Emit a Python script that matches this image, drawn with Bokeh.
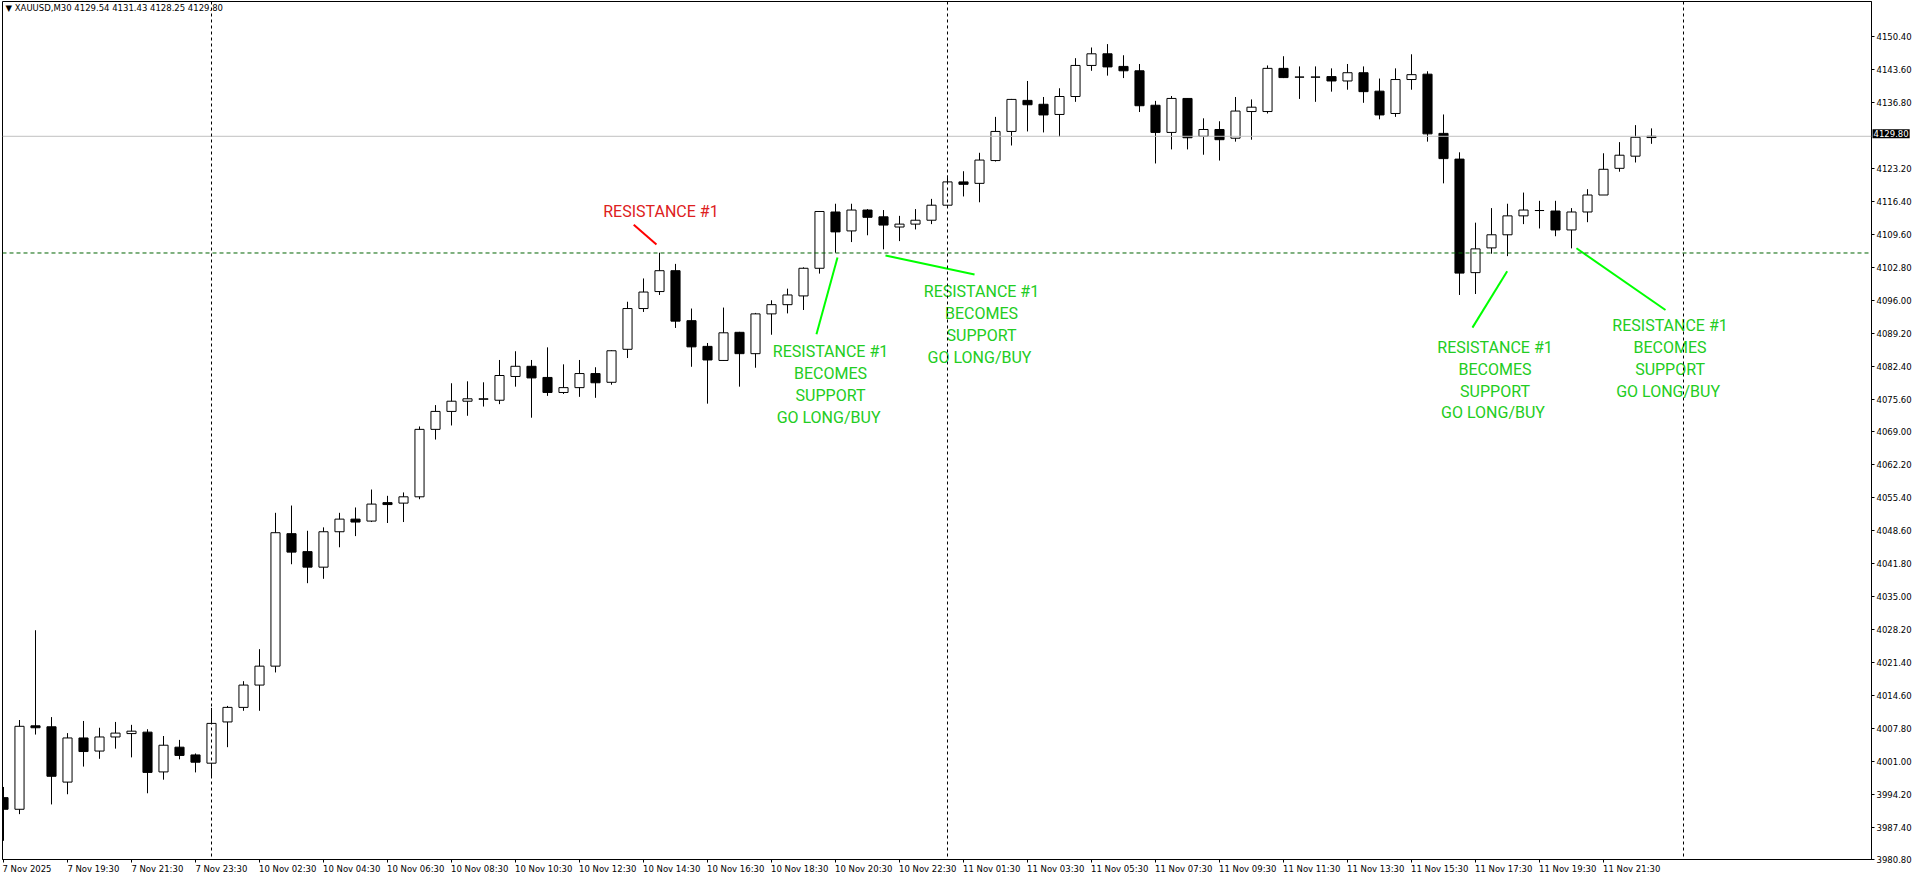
from bokeh.plotting import figure
from bokeh.models import (Range1d, LinearAxis, FixedTicker, NumeralTickFormatter,
                          Span, Label, ColumnDataSource)
from bokeh.core.properties import value
from bokeh.embed import file_html
from bokeh.resources import INLINE

# ---------------- data (XAUUSD M30, bar index 0 = 7 Nov 17:30) ----------------
bar_open = [3993.5, 3991.1, 4008.3, 4008.1, 3996.7, 4005.8, 4003.1, 4006.0, 4006.7, 4007.0,
            3998.8, 4003.9, 4002.3, 4000.6, 4009.1, 4012.1, 4016.7, 4020.6, 4047.9, 4044.2,
            4041.0, 4048.3, 4050.9, 4050.5, 4054.3, 4054.2, 4055.5, 4069.4, 4073.1, 4075.2,
            4075.6, 4075.4, 4080.3, 4082.4, 4080.1, 4077.0, 4078.0, 4080.9, 4079.1, 4085.9,
            4094.3, 4097.8, 4102.1, 4091.8, 4086.5, 4083.6, 4089.4, 4085.0, 4093.2, 4095.1,
            4096.9, 4102.6, 4114.2, 4110.3, 4114.6, 4113.2, 4111.1, 4111.7, 4112.5, 4115.6,
            4120.4, 4120.1, 4124.8, 4130.8, 4137.2, 4136.4, 4134.3, 4138.0, 4144.4, 4146.8,
            4144.2, 4143.3, 4136.2, 4130.6, 4137.6, 4129.8, 4131.2, 4129.4, 4134.9, 4134.9,
            4143.8, 4142.0, 4142.0, 4142.1, 4141.2, 4142.9, 4139.1, 4134.5, 4141.5, 4142.6,
            4130.4, 4125.1, 4101.7, 4106.8, 4109.5, 4113.4, 4114.5, 4114.4, 4110.5, 4114.2,
            4117.7, 4123.2, 4125.7, 4129.54]
bar_high = [3995.7, 4009.5, 4028.0, 4010.1, 4006.8, 4009.3, 4007.9, 4009.1, 4008.5, 4007.6,
            4006.2, 4005.4, 4002.6, 4012.0, 4012.4, 4017.5, 4024.1, 4052.2, 4053.7, 4048.5,
            4049.2, 4052.2, 4053.3, 4057.0, 4055.7, 4056.4, 4070.0, 4074.4, 4078.9, 4079.3,
            4079.1, 4083.7, 4085.5, 4083.7, 4086.3, 4082.8, 4083.7, 4082.2, 4085.7, 4095.7,
            4100.5, 4105.8, 4103.5, 4094.3, 4087.2, 4094.5, 4089.5, 4093.4, 4096.0, 4098.4,
            4102.8, 4114.4, 4115.9, 4115.9, 4114.8, 4114.6, 4113.4, 4114.8, 4116.9, 4121.7,
            4122.6, 4126.4, 4133.8, 4137.5, 4141.2, 4137.9, 4139.7, 4145.9, 4148.1, 4148.8,
            4146.5, 4144.7, 4137.1, 4138.1, 4137.6, 4133.5, 4132.9, 4137.9, 4137.4, 4144.4,
            4146.3, 4144.2, 4144.2, 4143.8, 4144.7, 4144.2, 4141.7, 4143.8, 4146.7, 4143.2,
            4134.3, 4126.5, 4112.0, 4115.0, 4115.9, 4118.2, 4116.5, 4116.5, 4115.0, 4118.9,
            4126.3, 4128.6, 4132.1, 4131.43]
bar_low = [3984.6, 3990.1, 4006.5, 3992.1, 3994.2, 3999.9, 4001.5, 4003.6, 4001.8, 3994.4,
           3997.2, 4001.4, 3998.7, 3997.9, 4003.9, 4011.4, 4011.4, 4019.3, 4041.6, 4037.7,
           4038.6, 4045.1, 4047.4, 4050.3, 4050.1, 4050.3, 4055.0, 4067.3, 4070.2, 4072.2,
           4074.1, 4074.6, 4078.2, 4071.8, 4076.3, 4076.7, 4076.1, 4075.9, 4078.6, 4084.1,
           4093.6, 4097.1, 4090.3, 4082.3, 4074.7, 4083.5, 4078.2, 4082.1, 4088.9, 4093.3,
           4094.0, 4101.5, 4105.8, 4108.0, 4109.4, 4106.5, 4108.2, 4110.6, 4111.7, 4115.3,
           4117.4, 4116.2, 4124.6, 4127.9, 4130.8, 4130.6, 4129.7, 4136.9, 4143.3, 4142.3,
           4141.8, 4134.8, 4124.2, 4127.1, 4127.1, 4126.0, 4124.8, 4128.7, 4129.1, 4134.5,
           4141.8, 4137.5, 4136.9, 4139.0, 4139.4, 4136.7, 4133.3, 4133.8, 4139.4, 4128.7,
           4120.1, 4097.1, 4097.3, 4105.6, 4105.1, 4111.7, 4110.8, 4109.2, 4106.7, 4112.1,
           4117.7, 4122.5, 4124.4, 4128.25]
bar_close = [3991.1, 4008.2, 4007.9, 3997.9, 4005.8, 4003.0, 4006.0, 4006.8, 4007.2, 3998.7,
             4004.3, 4002.2, 4000.8, 4008.8, 4012.1, 4016.7, 4020.6, 4048.1, 4044.1, 4041.0,
             4048.3, 4050.9, 4050.3, 4054.0, 4053.9, 4055.5, 4069.4, 4073.1, 4075.2, 4075.7,
             4075.7, 4080.5, 4082.4, 4080.0, 4077.0, 4078.0, 4080.9, 4079.0, 4085.6, 4094.3,
             4097.7, 4102.1, 4091.7, 4086.4, 4083.7, 4089.3, 4085.0, 4093.2, 4095.1, 4097.1,
             4102.6, 4114.3, 4110.1, 4114.6, 4113.1, 4111.5, 4111.7, 4112.5, 4115.6, 4120.4,
             4119.9, 4124.9, 4130.8, 4137.4, 4136.3, 4134.2, 4138.0, 4144.4, 4146.8, 4144.1,
             4143.3, 4136.1, 4130.6, 4137.6, 4129.5, 4131.2, 4129.1, 4135.0, 4135.8, 4143.8,
             4141.9, 4142.0, 4142.0, 4141.2, 4142.9, 4139.0, 4134.2, 4141.5, 4142.5, 4130.3,
             4125.2, 4101.6, 4106.6, 4109.5, 4113.4, 4114.6, 4114.5, 4110.5, 4114.2, 4117.7,
             4123.0, 4125.9, 4129.6, 4129.80]

x_tick_idx = [0, 4, 8, 12, 16, 20, 24, 28, 32, 36, 40, 44, 48, 52, 56,
              60, 64, 68, 72, 76, 80, 84, 88, 92, 96, 100]
x_tick_labels = ["7 Nov 2025", "7 Nov 19:30", "7 Nov 21:30", "7 Nov 23:30",
                 "10 Nov 02:30", "10 Nov 04:30", "10 Nov 06:30", "10 Nov 08:30",
                 "10 Nov 10:30", "10 Nov 12:30", "10 Nov 14:30", "10 Nov 16:30",
                 "10 Nov 18:30", "10 Nov 20:30", "10 Nov 22:30",
                 "11 Nov 01:30", "11 Nov 03:30", "11 Nov 05:30", "11 Nov 07:30",
                 "11 Nov 09:30", "11 Nov 11:30", "11 Nov 13:30", "11 Nov 15:30",
                 "11 Nov 17:30", "11 Nov 19:30", "11 Nov 21:30"]
y_ticks = [4150.40, 4143.60, 4136.80, 4123.20, 4116.40, 4109.60, 4102.80, 4096.00,
           4089.20, 4082.40, 4075.60, 4069.00, 4062.20, 4055.40, 4048.60, 4041.80,
           4035.00, 4028.20, 4021.40, 4014.60, 4007.80, 4001.00, 3994.20, 3987.40, 3980.80]

day_separators = [13, 59, 105]
resistance_level = 4105.75
last_price = 4129.80
header_text = "\u25bc XAUUSD,M30  4129.54 4131.43 4128.25 4129.80"

# trend-line objects (bar index, price)
ann_line_x = [[39.39, 40.81], [50.81, 52.125], [55.125, 60.69], [91.81, 93.98], [98.31, 103.875]]
ann_line_y = [[4111.59, 4107.48], [4089.0, 4104.81], [4105.22, 4101.32], [4090.37, 4102.0],
              [4106.72, 4093.99]]
ann_line_color = ["#ff0000", "#00ff00", "#00ff00", "#00ff00", "#00ff00"]

red_label = "RESISTANCE #1"
red_label_x = 41.09
red_label_y = 4114.40
green_label_lines = ["RESISTANCE #1", "BECOMES", "SUPPORT", "GO  LONG/BUY"]
green_label_x = [51.69, 61.125, 93.22, 104.16]
green_label_y = [4085.41, 4097.83, 4086.33, 4090.81]

# ---------------- layout ----------------
W, H = 1916, 885
BORDER_L, BORDER_T, BORDER_R, BORDER_B = 2, 1, 45, 21
BAR_PX = 16.0
PX_PER_USD = 4.87
FRAME_W = W - BORDER_L - BORDER_R
x0 = -0.0625
x1 = x0 + FRAME_W / BAR_PX
y1 = 4157.58
y0 = 3980.75

p = figure(width=W, height=H, output_backend="svg", toolbar_location=None,
           x_range=Range1d(x0, x1), y_range=Range1d(y0, y1),
           x_axis_location=None, y_axis_location="right",
           min_border_left=BORDER_L, min_border_top=BORDER_T,
           min_border_right=BORDER_R, min_border_bottom=BORDER_B)
p.grid.visible = False
p.outline_line_color = "black"
p.outline_line_width = 1
p.background_fill_color = "white"
p.border_fill_color = "white"

# right price axis
ya = p.yaxis[0]
ya.ticker = FixedTicker(ticks=y_ticks)
ya.formatter = NumeralTickFormatter(format="0.00")
ya.major_tick_out = 3
ya.major_tick_in = 0
ya.minor_tick_line_color = None
ya.axis_line_color = "black"
ya.major_tick_line_color = "black"
ya.major_label_standoff = 2
ya.major_label_text_font = "DejaVu Sans"
ya.major_label_text_font_size = "8.5px"
ya.major_label_text_color = "black"

# bottom time axis: tick marks at the bars (minor ticks), labels starting at their tick
lab_pos = [round(i + (4.7 * len(s) / 2) / BAR_PX, 4) for i, s in zip(x_tick_idx, x_tick_labels)]
xa = LinearAxis(ticker=FixedTicker(ticks=lab_pos, minor_ticks=x_tick_idx))
xa.major_label_overrides = {pos: s for pos, s in zip(lab_pos, x_tick_labels)}
xa.axis_line_color = "black"
xa.major_tick_line_color = None
xa.major_tick_out = 3
xa.major_tick_in = 0
xa.minor_tick_line_color = "black"
xa.minor_tick_out = 3
xa.minor_tick_in = 0
xa.major_label_standoff = 1
xa.major_label_text_font = "DejaVu Sans"
xa.major_label_text_font_size = "8.5px"
xa.major_label_text_color = "black"
p.add_layout(xa, "below")

# reference lines
p.add_layout(Span(location=last_price, dimension="width", line_color="#c0c0c0", line_width=1))
p.add_layout(Span(location=resistance_level, dimension="width", line_color="#006400",
                  line_width=1, line_dash="4 3"))
for s in day_separators:
    p.add_layout(Span(location=s, dimension="height", line_color="black", line_width=1,
                      line_dash="3 3"))

# candles
idx = list(range(len(bar_open)))
bull = [c >= o for o, c in zip(bar_open, bar_close)]
src = ColumnDataSource(dict(
    x=idx, o=bar_open, h=bar_high, l=bar_low, c=bar_close,
    top=[max(o, c) for o, c in zip(bar_open, bar_close)],
    bot=[min(o, c) for o, c in zip(bar_open, bar_close)],
    fill=["white" if b else "black" for b in bull],
))
p.segment(x0="x", y0="l", x1="x", y1="h", source=src, line_color="black", line_width=1)
p.vbar(x="x", width=0.57, top="top", bottom="bot", source=src,
       fill_color="fill", line_color="black", line_width=1)

# annotations
p.multi_line(xs=ann_line_x, ys=ann_line_y, line_color=ann_line_color, line_width=2)
ann_font = value("Roboto")
p.text(x=[red_label_x], y=[red_label_y], text=[red_label], text_font=ann_font,
       text_font_size=value("16px"), text_color="#dd2020", text_align="center",
       text_baseline="middle")
line_step = 22.0 / PX_PER_USD
gx, gy, gt = [], [], []
for bx, by in zip(green_label_x, green_label_y):
    for k, t in enumerate(green_label_lines):
        gx.append(bx)
        gy.append(by - k * line_step)
        gt.append(t)
p.text(x=gx, y=gy, text=gt, text_font=ann_font, text_font_size=value("16px"),
       text_color="#22cc22", text_align="center", text_baseline="middle")

# current price box on the price axis (held in a side panel so the frame does not clip it)
p.add_layout(Label(x=x1, y=last_price + 2.5 / PX_PER_USD, text="4129.80", x_offset=1,
                   text_font="DejaVu Sans", text_font_size="8.5px", text_color="white",
                   text_align="left", text_baseline="middle",
                   background_fill_color="black", padding=1), "below")

# header
p.add_layout(Label(x=x0, y=y1 - 1.5 / PX_PER_USD, text=header_text, x_offset=3,
                   text_font="DejaVu Sans", text_font_size="8.5px", text_color="black",
                   text_align="left", text_baseline="top"))

open("out.html", "w").write(file_html(p, INLINE))
